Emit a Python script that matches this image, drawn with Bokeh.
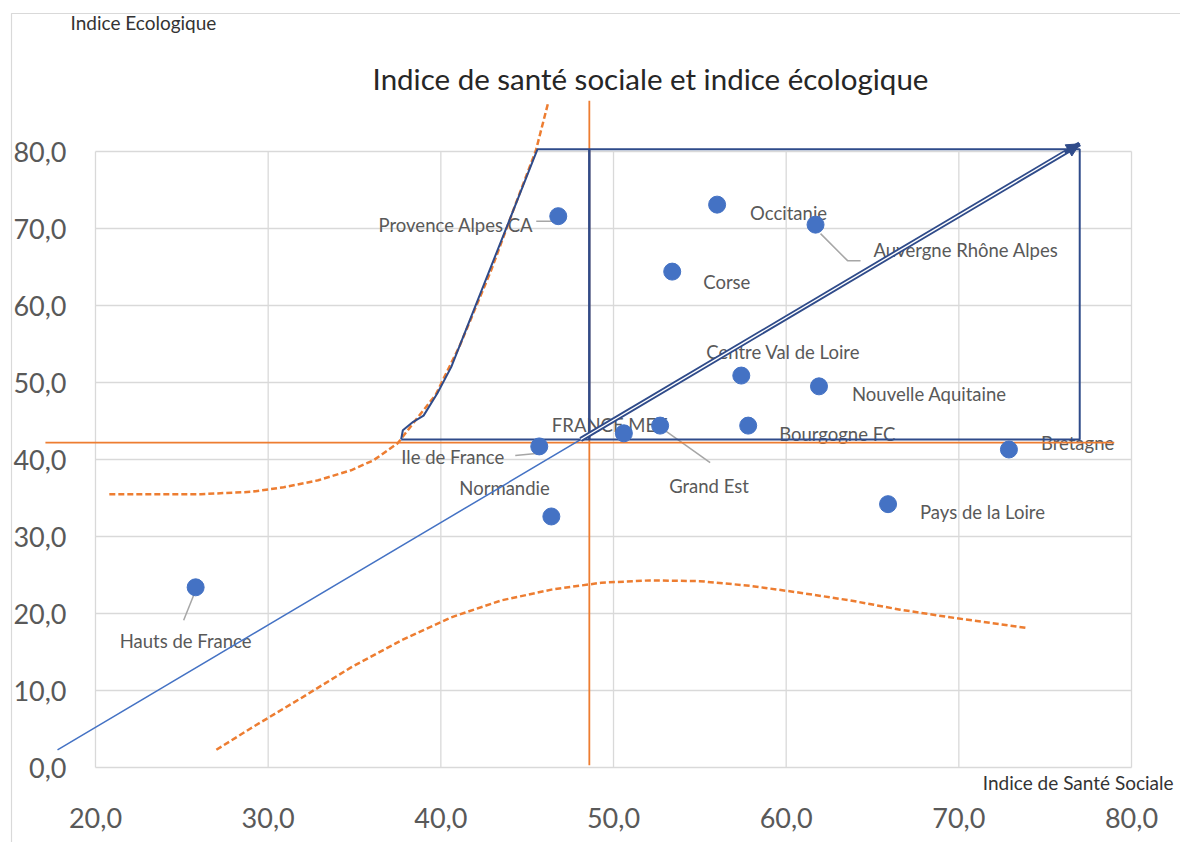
from bokeh.plotting import figure
from bokeh.models import Range1d, FixedTicker, ColumnDataSource, Arrow, NormalHead
from bokeh.core.properties import value
from bokeh.embed import file_html
from bokeh.resources import INLINE

# ---------------- data ----------------
regions = ["Provence Alpes CA", "Occitanie", "Auvergne Rhône Alpes", "Corse",
           "Centre Val de Loire", "Nouvelle Aquitaine", "Bourgogne FC", "Grand Est",
           "FRANCE MET", "Ile de France", "Normandie", "Bretagne",
           "Pays de la Loire", "Hauts de France"]
sante_sociale = [46.8, 56.0, 61.7, 53.4, 57.4, 61.9, 57.8, 52.7, 50.6, 45.7, 46.4, 72.9, 65.9, 25.8]
indice_eco = [71.6, 73.1, 70.5, 64.4, 50.9, 49.5, 44.4, 44.4, 43.4, 41.7, 32.6, 41.3, 34.2, 23.4]

x_ticks = [20, 30, 40, 50, 60, 70, 80]
x_tick_labels = ["20,0", "30,0", "40,0", "50,0", "60,0", "70,0", "80,0"]
y_ticks = [0, 10, 20, 30, 40, 50, 60, 70, 80]
y_tick_labels = ["0,0", "10,0", "20,0", "30,0", "40,0", "50,0", "60,0", "70,0", "80,0"]

# reference lines (France metro)
ref_h_x = [17.1, 79.0]
ref_h_y = [42.2, 42.2]
ref_v_x = [48.6, 48.6]
ref_v_y = [0.3, 86.6]

# upper dashed curve
curve1_x = [20.8, 23.2, 26.1, 29.0, 30.9, 32.9, 34.8, 36.1, 37.5, 38.5, 39.7, 41.1, 42.9, 44.3, 45.5, 46.2]
curve1_y = [35.5, 35.5, 35.5, 35.8, 36.4, 37.3, 38.6, 39.9, 42.1, 45.0, 48.4, 54.8, 64.5, 73.0, 80.1, 86.2]
# lower dashed curve
curve2_x = [27.0, 29.0, 31.9, 34.8, 37.7, 40.6, 43.5, 46.4, 49.3, 52.1, 55.0, 57.9, 60.8, 63.7, 66.6, 69.5, 72.4, 74.0]
curve2_y = [2.3, 5.1, 9.0, 13.0, 16.5, 19.5, 21.7, 23.1, 24.0, 24.3, 24.2, 23.6, 22.7, 21.7, 20.5, 19.5, 18.6, 18.1]

# zone outline
zone_x = [37.7, 37.8, 38.4, 39.0, 39.8, 40.6, 45.6, 77.0, 77.0, 37.7]
zone_y = [42.6, 43.8, 44.9, 45.7, 48.6, 52.0, 80.3, 80.3, 42.6, 42.6]
zone_div_x = [48.6, 48.6]
zone_div_y = [42.6, 80.3]

# diagonal trend
trend_x = [17.8, 77.0]
trend_y = [2.3, 81.0]
arrow_x = [48.1, 77.0]
arrow_y = [42.6, 81.0]

# ---------------- layout ----------------
W, H = 1180, 842
PXX, PXY = 17.267, 7.7          # pixels per unit
X0 = 20 - 95 / PXX
X1 = X0 + W / PXX
Y1 = 767 / PXY
Y0 = Y1 - H / PXY
sx = W / (X1 - X0)
sy = H / (Y1 - Y0)


def xd(px):
    return X0 + px / sx


def yd(py):
    return Y1 - py / sy


FONT = value("Lato")
NAVY = "#2F4B8A"
BLUE = "#4472C4"
ORANGE = "#ED7D31"
GREY_TXT = "#595959"

p = figure(width=W, height=H, x_range=Range1d(X0, X1), y_range=Range1d(Y0, Y1),
           min_border=0, toolbar_location=None, tools="", output_backend="svg")
p.outline_line_color = None
p.background_fill_color = "white"
p.grid.visible = False

# axes (fixed location, no lines)
p.xaxis.fixed_location = y_ticks[0]
p.yaxis.fixed_location = x_ticks[0]
p.xaxis.ticker = FixedTicker(ticks=x_ticks, minor_ticks=[])
p.yaxis.ticker = FixedTicker(ticks=y_ticks, minor_ticks=[])
p.xaxis.major_label_overrides = dict(zip(x_ticks, x_tick_labels))
p.yaxis.major_label_overrides = dict(zip(y_ticks, y_tick_labels))
for ax in (p.xaxis, p.yaxis):
    ax.axis_line_color = None
    ax.major_tick_line_color = None
    ax.minor_tick_line_color = None
    ax.major_tick_out = 0
    ax.major_tick_in = 0
    ax.major_label_text_font = "Lato"
    ax.major_label_text_font_size = "27px"
    ax.major_label_text_color = GREY_TXT
p.xaxis.major_label_standoff = 40
p.yaxis.major_label_standoff = 29

# gridlines limited to the plot area
p.segment(x0=x_ticks, y0=[y_ticks[0]] * len(x_ticks), x1=x_ticks, y1=[y_ticks[-1]] * len(x_ticks),
          line_color="#D9D9D9", line_width=1.3)
p.segment(x0=[x_ticks[0]] * len(y_ticks), y0=y_ticks, x1=[x_ticks[-1]] * len(y_ticks), y1=y_ticks,
          line_color="#D9D9D9", line_width=1.3)

# chart-area border (top and left)
p.line([X1 + 1, xd(11), xd(11)], [yd(13), yd(13), Y0 - 1], line_color="#D9D9D9", line_width=1.2)

# titles
p.text([xd(650)], [yd(78)], text=["Indice de santé sociale et indice écologique"],
       text_font=FONT, text_font_size="29.5px", text_color="#262626",
       text_align="center", text_baseline="middle")
p.text([xd(70)], [yd(22)], text=["Indice Ecologique"],
       text_font=FONT, text_font_size="19px", text_color="#333333",
       text_align="left", text_baseline="middle")
p.text([xd(1173)], [yd(782)], text=["Indice de Santé Sociale"],
       text_font=FONT, text_font_size="19px", text_color="#333333",
       text_align="right", text_baseline="middle")

# data labels (pixel offsets from points)
lab_dx = [-25, 33, 58, 31, -35, 33, 31, 9, -72, -35, -92, 32, 32, -10]
lab_dy = [9, 8, 25, 10, -24, 8, 8, 60, -8, 11, -28, -6, 8, 54]
lab_align = ["right", "left", "left", "left", "left", "left", "left", "left",
             "left", "right", "left", "left", "left", "center"]
lab_src = ColumnDataSource(dict(x=sante_sociale, y=indice_eco, t=regions,
                                dx=lab_dx, dy=lab_dy, al=lab_align))
p.text(x="x", y="y", text="t", x_offset="dx", y_offset="dy", text_align="al",
       text_baseline="middle", text_font=FONT, text_font_size="18.5px",
       text_color=GREY_TXT, source=lab_src)

# leader lines (pixel offsets from their point)
leaders = {
    "Provence Alpes CA": [(-22, 5), (-6, 5)],
    "Auvergne Rhône Alpes": [(5, 9), (32, 36), (45, 36)],
    "Grand Est": [(5, 5), (50, 37)],
    "Ile de France": [(-24, 9), (-3, 7)],
    "Hauts de France": [(0, 3), (-12, 33)],
}
lx, ly = [], []
for name, pts in leaders.items():
    i = regions.index(name)
    lx.append([sante_sociale[i] + dx / sx for dx, dy in pts])
    ly.append([indice_eco[i] - dy / sy for dx, dy in pts])
p.multi_line(lx, ly, line_color="#A6A6A6", line_width=1.5)

# dashed curves
p.line(curve1_x, curve1_y, line_color=ORANGE, line_width=2.5, line_dash="6 3")
p.line(curve2_x, curve2_y, line_color=ORANGE, line_width=2.5, line_dash="6 3")

# reference lines
p.line(ref_h_x, ref_h_y, line_color=ORANGE, line_width=1.8)
p.line(ref_v_x, ref_v_y, line_color=ORANGE, line_width=1.8)

# thin trend line
p.line(trend_x, trend_y, line_color=BLUE, line_width=1.5)

# zone outline
p.line(zone_x, zone_y, line_color=NAVY, line_width=2)
p.line(zone_div_x, zone_div_y, line_color=NAVY, line_width=2.5)

# double arrow line
p.line(arrow_x, arrow_y, line_color=NAVY, line_width=5)
fx = arrow_x[0] + 0.97 * (arrow_x[1] - arrow_x[0])
fy = arrow_y[0] + 0.97 * (arrow_y[1] - arrow_y[0])
p.line([arrow_x[0], fx], [arrow_y[0], fy], line_color="white", line_width=1.4)
p.add_layout(Arrow(end=NormalHead(size=13, fill_color=NAVY, line_color=NAVY),
                   x_start=arrow_x[0], y_start=arrow_y[0],
                   x_end=arrow_x[1], y_end=arrow_y[1], line_alpha=0))

# points
p.scatter(sante_sociale, indice_eco, size=17, fill_color=BLUE, line_color=BLUE)

open("out.html", "w").write(file_html(p, INLINE))
